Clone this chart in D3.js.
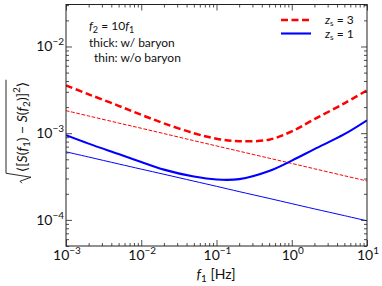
<!DOCTYPE html>
<html><head><meta charset="utf-8">
<script src="https://cdn.jsdelivr.net/npm/d3@7"></script>
<style>
body{margin:0;background:#fff;}
svg{display:block;}
text{font-family:Lato,"DejaVu Sans",sans-serif;fill:#111;}
</style></head>
<body>
<svg id="c" width="382" height="286"></svg>
<script>
// ---- data ----
const freqs = [1e-3, 2e-3, 5e-3, 1e-2, 2e-2, 5e-2, 0.1, 0.2, 0.5, 1, 2, 5, 10];
const z3Baryon   = [3.56e-3, 2.81e-3, 2.07e-3, 1.63e-3, 1.30e-3, 1.00e-3, 8.64e-4, 8.09e-4, 8.42e-4, 1.05e-3, 1.45e-3, 2.21e-3, 3.12e-3];
const z3NoBaryon = [1.82e-3, 1.58e-3, 1.31e-3, 1.14e-3, 9.9e-4, 8.2e-4, 7.13e-4, 6.2e-4, 5.15e-4, 4.48e-4, 3.89e-4, 3.23e-4, 2.81e-4];
const z1Baryon   = [9.48e-4, 7.58e-4, 5.74e-4, 4.65e-4, 3.80e-4, 3.16e-4, 2.92e-4, 2.95e-4, 3.66e-4, 4.83e-4, 6.55e-4, 9.74e-4, 1.41e-3];
const z1NoBaryon = [6.10e-4, 5.31e-4, 4.42e-4, 3.85e-4, 3.36e-4, 2.80e-4, 2.44e-4, 2.12e-4, 1.77e-4, 1.54e-4, 1.34e-4, 1.12e-4, 9.75e-5];
const xMajor = [1e-3, 1e-2, 1e-1, 1, 10];
const xMajorExp = ["−3", "−2", "−1", "0", "1"];
const yMajor = [1e-4, 1e-3, 1e-2];
const yMajorExp = ["−4", "−3", "−2"];
const legendLabels = ["3", "1"];

const svg = d3.select("#c");
const L = 66, R = 367, T = 4.5, B = 246;
const x = d3.scaleLog().domain([1e-3, 10]).range([L, R]);
const y = d3.scaleLog().domain([5.0e-5, 3.05e-2]).range([B, T]);

function minorTicks(dom) {
  const out = [];
  const lo = Math.floor(Math.log10(dom[0])), hi = Math.ceil(Math.log10(dom[1]));
  for (let e = lo; e <= hi; e++) for (let m = 2; m <= 9; m++) {
    const v = m * Math.pow(10, e);
    if (v >= dom[0] * 0.999 && v <= dom[1] * 1.001) out.push(v);
  }
  return out;
}
const xMinor = minorTicks(x.domain());
const yMinor = minorTicks(y.domain());

// ---- curves ----
const line = d3.line().x((d, i) => x(freqs[i])).y(d => y(d)).curve(d3.curveCatmullRom.alpha(0.5));
const series = [
  {v: z3NoBaryon, c: "#ff0000", w: 1, dash: "3.7,1.6"},
  {v: z1NoBaryon, c: "#0000ff", w: 1, dash: null},
  {v: z3Baryon, c: "#ff0000", w: 2.5, dash: "7,3.5"},
  {v: z1Baryon, c: "#0000ff", w: 2.1, dash: null},
];
svg.append("clipPath").attr("id", "clip").append("rect")
  .attr("x", L).attr("y", T).attr("width", R - L).attr("height", B - T);
const gPlot = svg.append("g").attr("clip-path", "url(#clip)");
series.forEach(s => {
  gPlot.append("path").attr("d", line(s.v)).attr("fill", "none")
    .attr("stroke", s.c).attr("stroke-width", s.w)
    .attr("stroke-dasharray", s.dash);
});

// ---- axes (ticks inside on all sides) ----
function addAxis(axisFn, scale, vals, size, tr) {
  const g = svg.append("g").attr("transform", tr)
    .call(axisFn(scale).tickValues(vals).tickSizeInner(-size).tickSizeOuter(0).tickFormat(""));
  g.select(".domain").remove();
  g.selectAll("line").attr("stroke", "#222").attr("stroke-width", 0.8);
  return g;
}
addAxis(d3.axisBottom, x, xMajor, 6, `translate(0,${B})`);
addAxis(d3.axisBottom, x, xMinor, 3, `translate(0,${B})`);
addAxis(d3.axisTop, x, xMajor, 6, `translate(0,${T})`);
addAxis(d3.axisTop, x, xMinor, 3, `translate(0,${T})`);
addAxis(d3.axisLeft, y, yMajor, 6, `translate(${L},0)`);
addAxis(d3.axisLeft, y, yMinor, 3, `translate(${L},0)`);
addAxis(d3.axisRight, y, yMajor, 6, `translate(${R},0)`);
addAxis(d3.axisRight, y, yMinor, 3, `translate(${R},0)`);

svg.append("rect").attr("x", L).attr("y", T).attr("width", R - L).attr("height", B - T)
  .attr("fill", "none").attr("stroke", "#222").attr("stroke-width", 1);

// tick labels
xMajor.forEach((v, i) => {
  const t = svg.append("text").attr("x", x(v) + 1).attr("y", B + 14).attr("text-anchor", "middle")
    .attr("font-size", 14);
  t.append("tspan").text("10");
  t.append("tspan").attr("dy", -6).attr("font-size", 10).text(xMajorExp[i]);
});
yMajor.forEach((v, i) => {
  const t = svg.append("text").attr("x", L - 2).attr("y", y(v) + 5).attr("text-anchor", "end")
    .attr("font-size", 14);
  t.append("tspan").text("10");
  t.append("tspan").attr("dy", -6).attr("font-size", 10).text(yMajorExp[i]);
});

// x label
{
  const t = svg.append("text").attr("x", 216).attr("y", 279).attr("text-anchor", "middle").attr("font-size", 14);
  t.append("tspan").attr("font-style", "italic").text("f");
  t.append("tspan").attr("dy", 3).attr("font-size", 10).text("1");
  t.append("tspan").attr("dy", -3).text(" [Hz]");
}

// y label with radical
{
  const g = svg.append("g").attr("transform", "translate(27,127) rotate(-90)");
  const t = g.append("text").attr("x", 0).attr("y", 0).attr("text-anchor", "middle").attr("font-size", 14);
  const parts = [
    ["⟨[", null], ["S", "i"], ["(", null], ["f", "i"], ["1", "sub"], [")", null], [" − ", null],
    ["S", "i"], ["(", null], ["f", "i"], ["2", "sub"], [")]", null], ["2", "sup"], ["⟩", null]
  ];
  let shift = 0;
  parts.forEach(([s, k]) => {
    const sp = t.append("tspan").text(s);
    let target = 0;
    if (k === "i") sp.attr("font-style", "italic");
    if (k === "sub") { sp.attr("font-size", 10); target = 3; }
    if (k === "sup") { sp.attr("font-size", 10); target = -7; }
    sp.attr("dy", target - shift);
    shift = target;
  });
  const bb = t.node().getBBox();
  const x0 = bb.x, x1 = bb.x + bb.width;
  g.append("path")
    .attr("d", `M${x0 - 11},-5 L${x0 - 9},-7 L${x0 - 5},4 L${x0 - 1},-21 L${x1 + 2},-21`)
    .attr("fill", "none").attr("stroke", "#111").attr("stroke-width", 0.9);
}

// annotation
{
  const t = svg.append("text").attr("x", 89).attr("y", 30).attr("font-size", 12);
  t.append("tspan").attr("font-style", "italic").text("f");
  t.append("tspan").attr("dy", 3).attr("font-size", 9).text("2");
  t.append("tspan").attr("dy", -3).text(" = 10");
  t.append("tspan").attr("font-style", "italic").text("f");
  t.append("tspan").attr("dy", 3).attr("font-size", 9).text("1");
  svg.append("text").attr("x", 89).attr("y", 47).attr("font-size", 12).text("thick: w/ baryon");
  svg.append("text").attr("x", 94).attr("y", 62).attr("font-size", 12).text("thin: w/o baryon");
}

// legend
{
  const items = [{c: "#ff0000", w: 2.5, dash: "7,3.5"}, {c: "#0000ff", w: 2.1, dash: null}];
  items.forEach((it, i) => {
    const yy = 20 + i * 13.5;
    svg.append("line").attr("x1", 281).attr("x2", 311).attr("y1", yy).attr("y2", yy)
      .attr("stroke", it.c).attr("stroke-width", it.w).attr("stroke-dasharray", it.dash);
    const t = svg.append("text").attr("x", 325).attr("y", yy + 4).attr("font-size", 12);
    t.append("tspan").attr("font-style", "italic").text("z");
    t.append("tspan").attr("dy", 2).attr("font-size", 8).text("s");
    t.append("tspan").attr("dy", -2).text(" = " + legendLabels[i]);
  });
}
</script>
</body></html>
